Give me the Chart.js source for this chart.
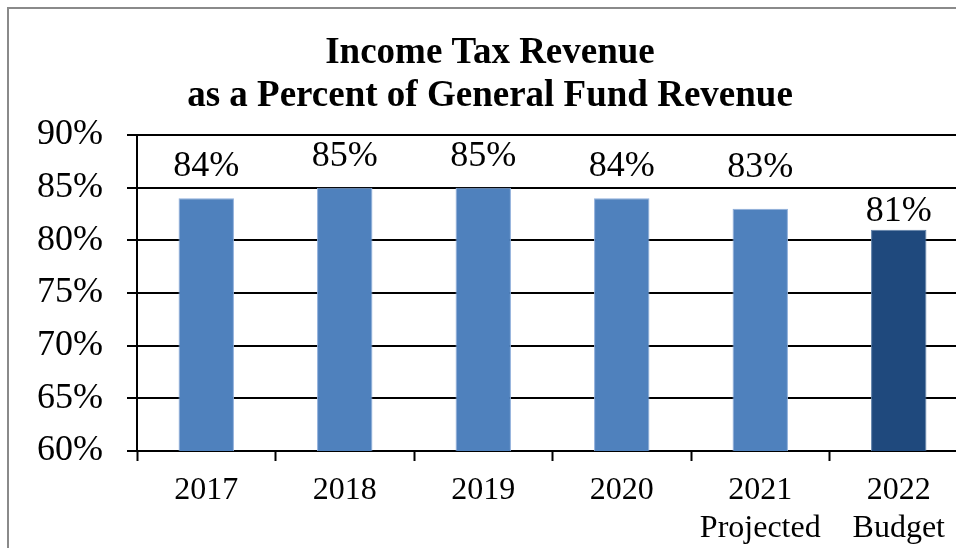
<!DOCTYPE html>
<html>
<head>
<meta charset="utf-8">
<script src="https://cdn.jsdelivr.net/npm/chart.js@4.4.1/dist/chart.umd.min.js"></script>
<style>
  html, body { margin: 0; padding: 0; background: #fff; overflow: hidden; }
  #wrap { position: relative; width: 956px; height: 548px; overflow: hidden; }
  #frame {
    position: absolute; left: 7px; top: 7px; width: 1000px; height: 600px;
    border-left: 2px solid #8a8a8a; border-top: 2px solid #8a8a8a;
  }
  #chart { position: absolute; left: 0; top: 0; }
</style>
</head>
<body>
<div id="wrap">
  <div id="frame"></div>
  <canvas id="chart" width="968" height="548"></canvas>
</div>
<script>
const categories = ['2017', '2018', '2019', '2020', ['2021', 'Projected'], ['2022', 'Budget']];
const percentValues = [84, 85, 85, 84, 83, 81];
const titleLines = ['Income Tax Revenue', 'as a Percent of General Fund Revenue'];

const SERIF = "'Liberation Serif', 'Times New Roman', serif";
const barFill = percentValues.map((v, i) => i === percentValues.length - 1 ? '#1f497d' : '#4f81bd');
const barEdge = percentValues.map((v, i) => i === percentValues.length - 1 ? '#5d7fa8' : '#8eaedb');
// gap between bar top and label baseline; labels were hand-nudged off the gridlines
const labelLift = [22, 22, 22, 22, 32, 9];

// two-line bold heading, centred a little right of the canvas middle
const heading = {
  id: 'heading',
  afterDraw(chart) {
    const ctx = chart.ctx;
    ctx.save();
    ctx.font = 'bold 37px ' + SERIF;
    ctx.fillStyle = '#000';
    ctx.textAlign = 'center';
    ctx.textBaseline = 'alphabetic';
    titleLines.forEach((line, i) => ctx.fillText(line, 490, 63 + i * 43));
    ctx.restore();
  }
};

// draws the "84%" style value labels above each bar
const valueLabels = {
  id: 'valueLabels',
  afterDatasetsDraw(chart) {
    const ctx = chart.ctx;
    const meta = chart.getDatasetMeta(0);
    ctx.save();
    ctx.font = '36px ' + SERIF;
    ctx.fillStyle = '#000';
    ctx.textAlign = 'center';
    ctx.textBaseline = 'alphabetic';
    meta.data.forEach((bar, i) => {
      ctx.fillText(percentValues[i] + '%', bar.x, bar.y - labelLift[i]);
    });
    ctx.restore();
  }
};

new Chart(document.getElementById('chart'), {
  type: 'bar',
  data: {
    labels: categories,
    datasets: [{
      data: percentValues,
      backgroundColor: barFill,
      borderColor: barEdge,
      borderWidth: 1,
      borderSkipped: 'bottom',
      barPercentage: 0.4,
      categoryPercentage: 1.0,
    }],
  },
  options: {
    responsive: false,
    animation: false,
    layout: { padding: { top: 135 } },
    plugins: {
      legend: { display: false },
      tooltip: { enabled: false },
    },
    scales: {
      x: {
        offset: true,
        grid: {
          offset: true,
          drawOnChartArea: false,
          drawTicks: true,
          tickLength: 10,
          tickWidth: 2,
          tickColor: '#000',
        },
        border: { color: '#000', width: 2 },
        ticks: {
          color: '#000',
          padding: 11,
          maxRotation: 0,
          font: { family: SERIF, size: 32, lineHeight: 1.17 },
        },
        afterFit(scale) { scale.height = 97; },
      },
      y: {
        min: 60,
        max: 90,
        grid: {
          color: '#000',
          lineWidth: 2,
          tickLength: 10,
        },
        border: { color: '#000', width: 2 },
        ticks: {
          stepSize: 5,
          color: '#000',
          padding: 24,
          font: { family: SERIF, size: 36 },
          callback: v => v + '%',
        },
        afterFit(scale) { scale.width = 137; },
      },
    },
  },
  plugins: [valueLabels, heading],
});
</script>
</body>
</html>
